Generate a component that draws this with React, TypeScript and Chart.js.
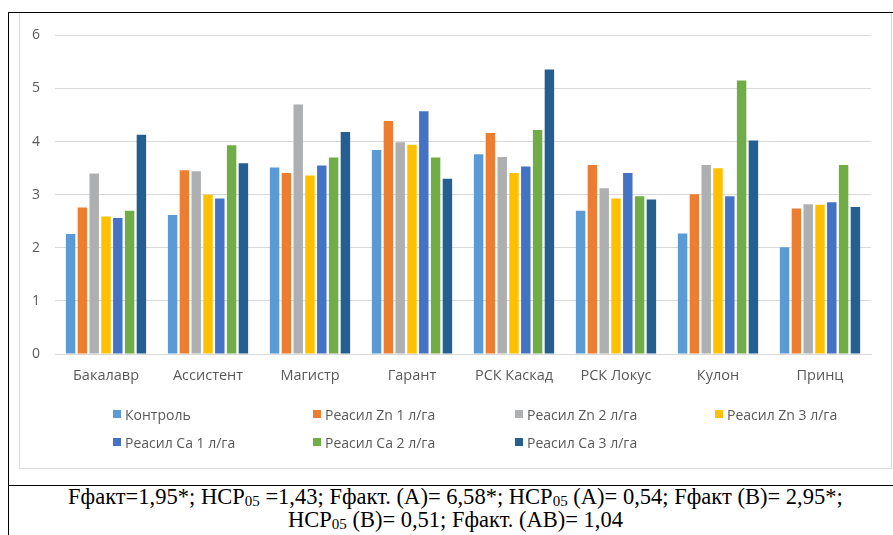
import React, { useEffect, useRef } from "react";
import { Chart, registerables } from "chart.js";

Chart.register(...registerables);

const categories = ["Бакалавр", "Ассистент", "Магистр", "Гарант", "РСК Каскад", "РСК Локус", "Кулон", "Принц"];

const seriesNames = [
  "Контроль",
  "Реасил Zn 1 л/га",
  "Реасил Zn 2 л/га",
  "Реасил Zn 3 л/га",
  "Реасил Ca 1 л/га",
  "Реасил Ca 2 л/га",
  "Реасил Ca 3 л/га",
];

const kontrol = [2.26, 2.62, 3.51, 3.84, 3.76, 2.70, 2.27, 2.01];
const zn1 = [2.76, 3.46, 3.41, 4.39, 4.16, 3.56, 3.01, 2.74];
const zn2 = [3.40, 3.44, 4.70, 3.99, 3.71, 3.12, 3.56, 2.82];
const zn3 = [2.59, 3.00, 3.36, 3.94, 3.41, 2.93, 3.50, 2.81];
const ca1 = [2.56, 2.93, 3.55, 4.57, 3.53, 3.41, 2.97, 2.86];
const ca2 = [2.70, 3.93, 3.70, 3.70, 4.22, 2.97, 5.15, 3.56];
const ca3 = [4.13, 3.59, 4.18, 3.30, 5.36, 2.91, 4.02, 2.77];

const seriesValues = [kontrol, zn1, zn2, zn3, ca1, ca2, ca3];
const colors = ["#5B9BD5", "#ED7D31", "#AEAFB1", "#FFC000", "#4472C4", "#70AD47", "#255E91"];

const yTicks = [0, 1, 2, 3, 4, 5, 6];

const footerLine1 = ["Fфакт=1,95*; НСР", "05", " =1,43; Fфакт. (А)= 6,58*; НСР", "05", " (А)= 0,54; Fфакт (В)= 2,95*;"];
const footerLine2 = ["НСР", "05", " (В)= 0,51; Fфакт. (АВ)= 1,04"];

function renderFooter(parts: string[]) {
  return parts.map((p, i) =>
    i % 2 === 1 ? (
      <span key={i} style={{ fontSize: "15px", position: "relative", top: "2px" }}>{p}</span>
    ) : (
      <span key={i}>{p}</span>
    )
  );
}

export default function App() {
  const canvasRef = useRef<HTMLCanvasElement | null>(null);
  const line1Ref = useRef<HTMLDivElement | null>(null);
  const line2Ref = useRef<HTMLDivElement | null>(null);

  useEffect(() => {
    const fit = (el: HTMLDivElement | null, target: number) => {
      if (!el) return;
      const w = el.offsetWidth;
      if (w > 0) el.style.transform = `scaleX(${target / w})`;
    };
    fit(line1Ref.current, 775);
    fit(line2Ref.current, 335);

    const ctx = canvasRef.current!.getContext("2d")!;
    const chart = new Chart(ctx, {
      type: "bar",
      data: {
        labels: categories,
        datasets: seriesNames.map((name, i) => ({
          label: name,
          data: seriesValues[i],
          backgroundColor: colors[i],
          borderWidth: 0,
          categoryPercentage: 0.81,
          barPercentage: 0.8,
        })),
      },
      options: {
        animation: false,
        responsive: false,
        maintainAspectRatio: false,
        layout: { padding: { top: 21, right: 20, left: 0, bottom: 85 } },
        plugins: { legend: { display: false }, tooltip: { enabled: false } },
        scales: {
          x: {
            grid: { display: false, drawTicks: false },
            border: { display: true, color: "#d9d9d9", width: 1 },
            ticks: {
              color: "#595959",
              font: { family: "Open Sans", size: 14.5 },
              padding: 13,
              maxRotation: 0,
            },
            afterFit: (s: any) => {
              s.height = 30;
            },
          },
          y: {
            min: 0,
            max: 6,
            afterBuildTicks: (s: any) => {
              s.ticks = yTicks.map((v) => ({ value: v }));
            },
            grid: { color: "#d9d9d9", lineWidth: 1, drawTicks: false },
            border: { display: false },
            ticks: {
              color: "#595959",
              font: { family: "Open Sans", size: 14 },
              padding: 15,
            },
            afterFit: (s: any) => {
              s.width = 36;
            },
          },
        },
      },
    });
    return () => chart.destroy();
  }, []);

  const legendCols = [113, 313, 515, 715];
  const legendRows = [414, 442];

  const footerStyle: React.CSSProperties = {
    position: "absolute",
    fontFamily: "Liberation Serif",
    fontSize: 22.5,
    lineHeight: "23px",
    color: "#000",
    whiteSpace: "nowrap",
    transformOrigin: "left center",
  };

  return (
    <div style={{ position: "absolute", left: 0, top: 0, width: 893, height: 535, background: "#fff", overflow: "hidden" }}>
      <div style={{ position: "absolute", left: 8, top: 12, width: 885, height: 1, background: "#000" }} />
      <div style={{ position: "absolute", left: 8, top: 12, width: 1, height: 523, background: "#000" }} />
      <div style={{ position: "absolute", left: 8, top: 485, width: 885, height: 1, background: "#000" }} />
      <div
        style={{
          position: "absolute",
          left: 19,
          top: 13,
          width: 871,
          height: 455,
          border: "1px solid #d9d9d9",
          borderTop: "none",
          boxSizing: "content-box",
        }}
      />
      <canvas
        ref={canvasRef}
        width={872}
        height={457}
        style={{ position: "absolute", left: 19, top: 12, width: 872, height: 457 }}
      />
      {seriesNames.map((name, i) => {
        const col = i % 4;
        const row = Math.floor(i / 4);
        return (
          <div
            key={name}
            style={{
              position: "absolute",
              left: legendCols[col],
              top: legendRows[row] - 10,
              height: 20,
              display: "flex",
              alignItems: "center",
              fontFamily: "Open Sans",
              fontSize: 14,
              color: "#595959",
              whiteSpace: "nowrap",
            }}
          >
            <span style={{ display: "inline-block", width: 8, height: 8, background: colors[i], marginRight: 4 }} />
            {name}
          </div>
        );
      })}
      <div ref={line1Ref} style={{ ...footerStyle, left: 68, top: 485 }}>
        {renderFooter(footerLine1)}
      </div>
      <div ref={line2Ref} style={{ ...footerStyle, left: 288, top: 508 }}>
        {renderFooter(footerLine2)}
      </div>
    </div>
  );
}
